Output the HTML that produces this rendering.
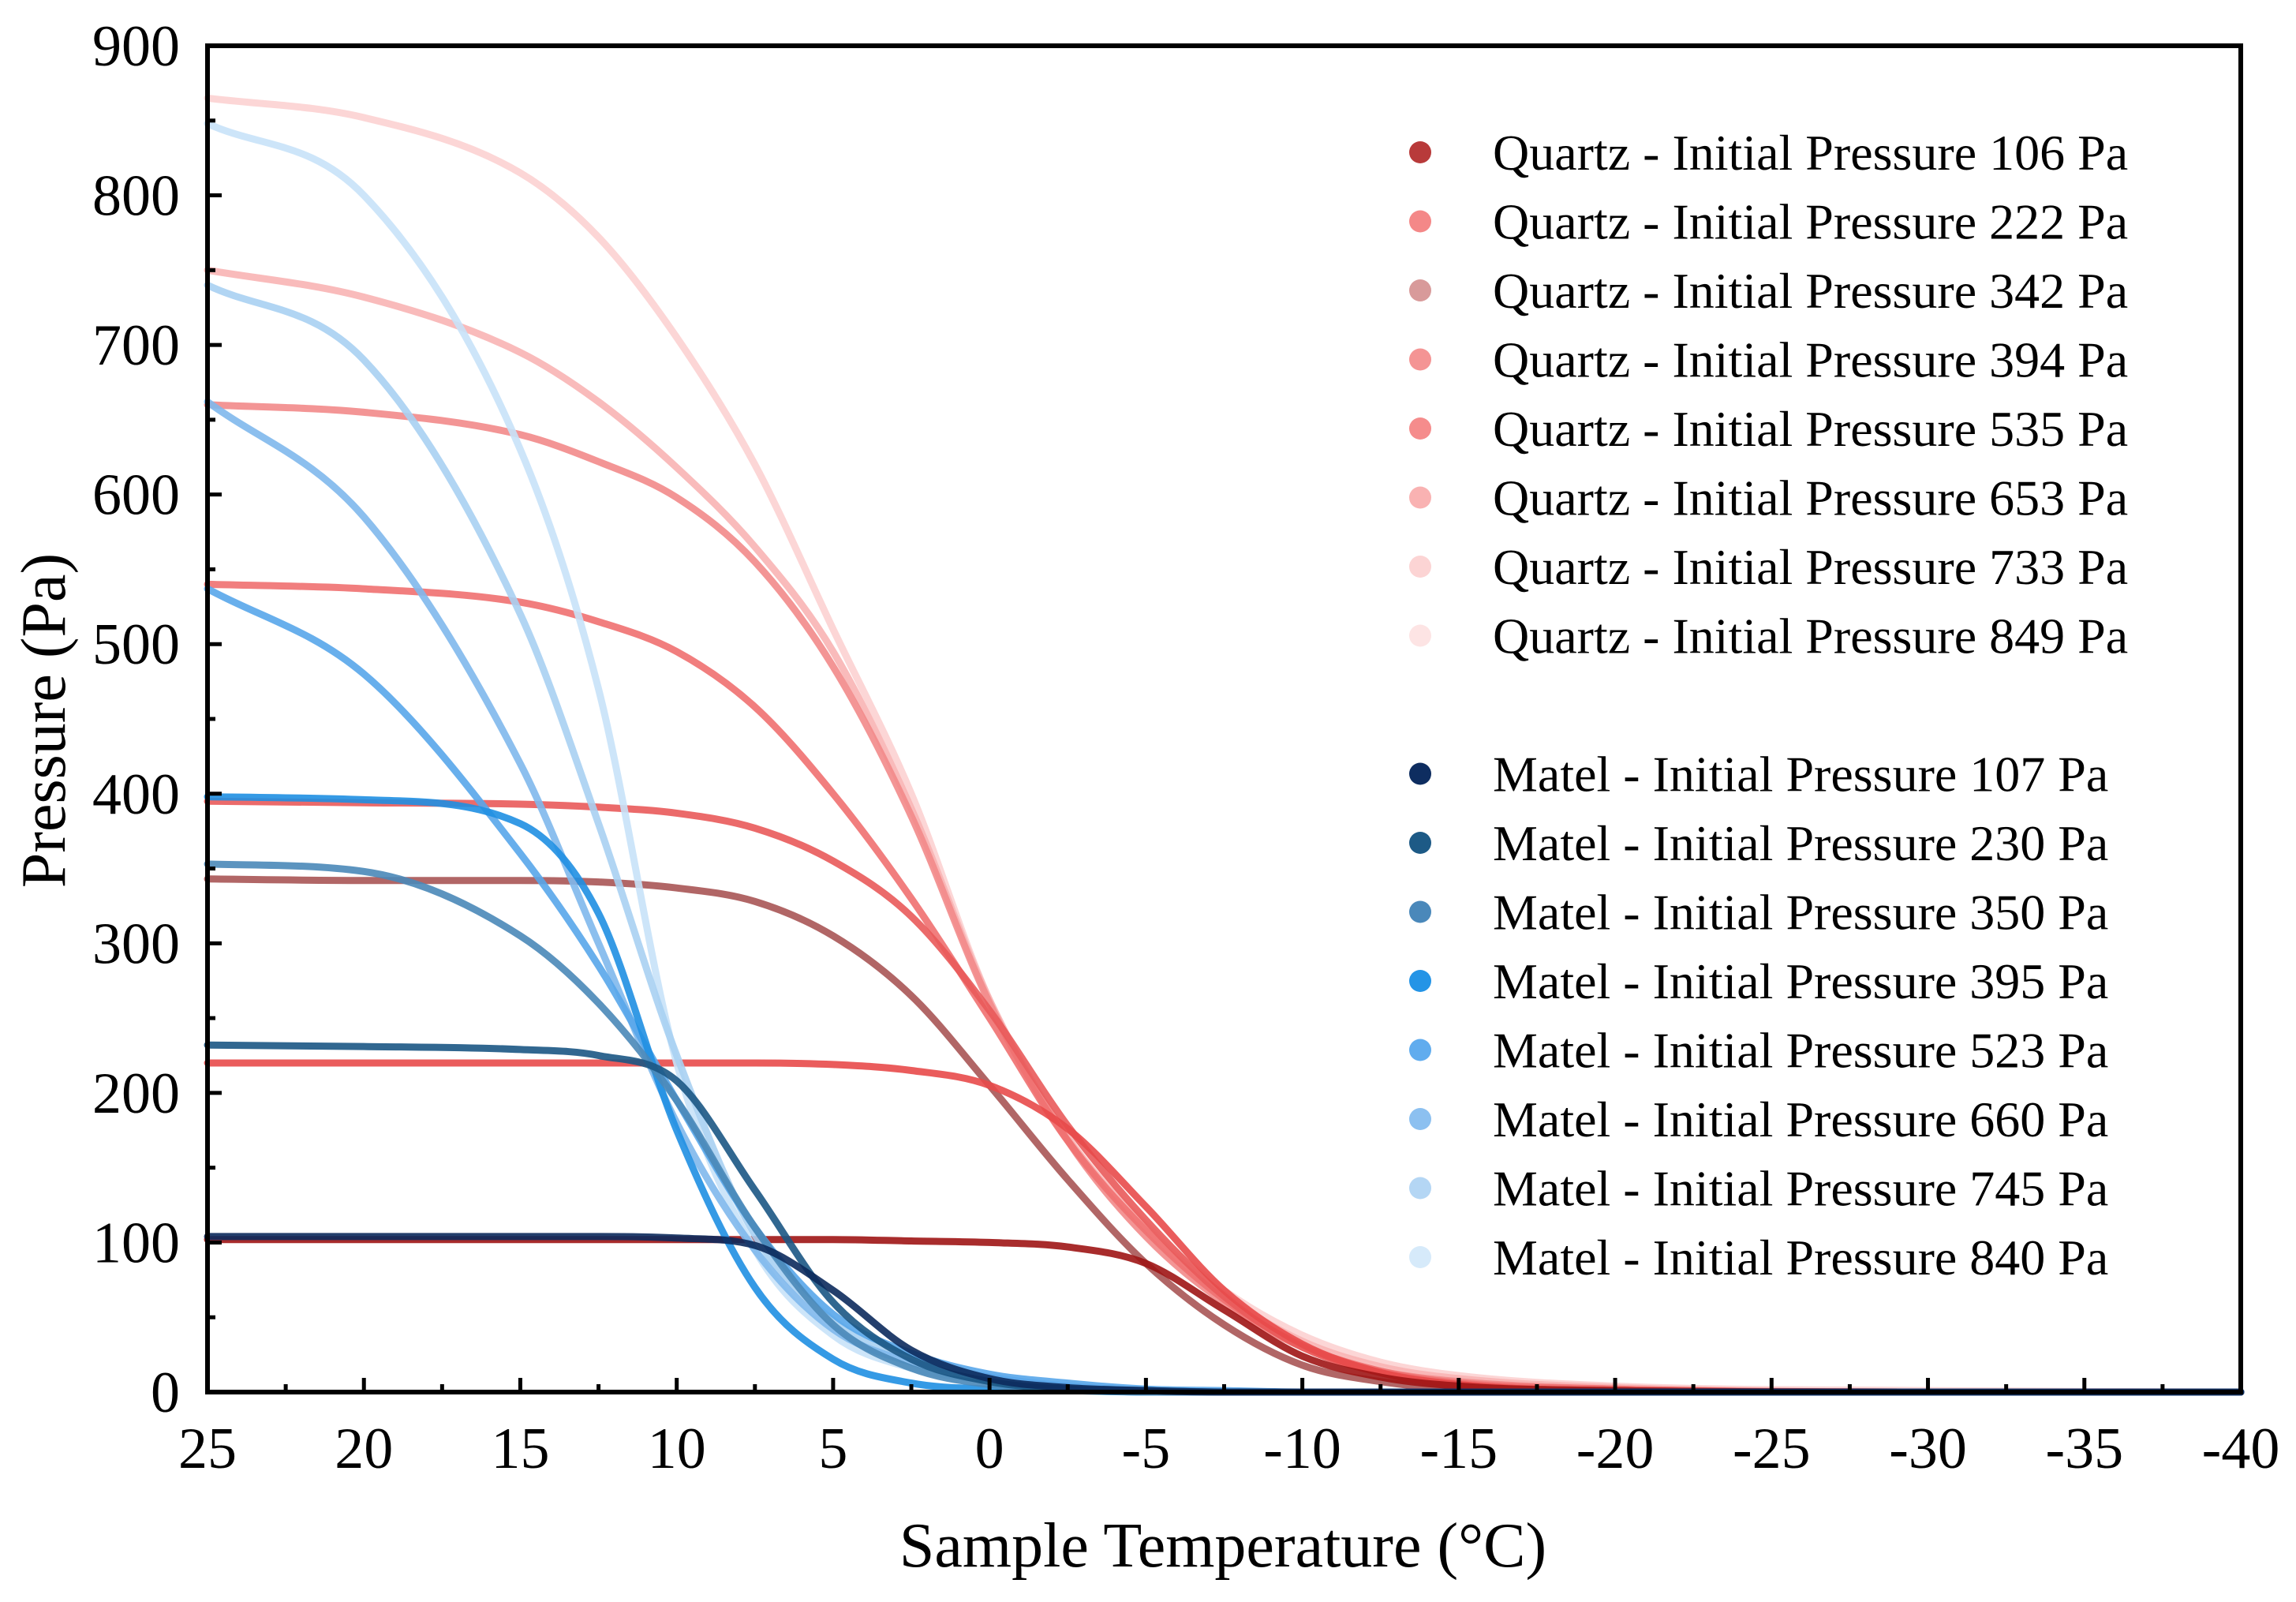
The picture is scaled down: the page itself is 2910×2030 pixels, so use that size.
<!DOCTYPE html>
<html><head><meta charset="utf-8"><style>
html,body{margin:0;padding:0;background:#fff;}
svg{display:block;font-family:"Liberation Serif",serif;}
</style></head><body>
<svg id="chart" width="2910" height="2030" viewBox="0 0 2910 2030" xmlns="http://www.w3.org/2000/svg">
<g id="series"></g>
<g id="axes"></g>
<g id="legend"></g>
<text x="1550" y="1985" font-size="80" text-anchor="middle">Sample Temperature (°C)</text>
<text x="0" y="0" font-size="80" text-anchor="middle" transform="translate(82,913) rotate(-90)">Pressure (Pa)</text>
</svg>
<script>
const temps=[25,20,15,12.5,10,7.5,5,2.5,0,-2.5,-5,-7.5,-10,-12.5,-15,-20,-30,-40];
const q106=[102,102,102,102,102,102,102,101,100,97,86,55,24,10,4,1,0,0];
const q222=[220,220,220,220,220,220,219,215,205,176,124,68,32,13,5,1,0,0];
const q342=[343,342,342,341,337,328,305,265,205,142,86,45,18,7,2,0,0,0];
const q394=[395,394,393,391,387,377,355,318,255,178,115,64,30,13,5,1,0,0];
const q535=[540,537,528,515,495,458,400,330,250,168,108,62,31,14,6,2,0,0];
const q653=[660,655,640,622,598,555,485,385,260,168,104,60,30,14,7,2,0,0];
const q733=[750,732,695,662,618,565,495,390,262,170,110,65,34,17,9,3,0,0];
const q849=[865,852,815,772,705,620,510,400,262,170,112,68,38,20,11,4,1,0];
const m107=[104,104,104,104,103,98,68,28,9,3,1,0,0,0,0,0,0,0];
const m230=[232,231,229,225,208,135,60,22,7,2,1,0,0,0,0,0,0,0];
const m350=[353,348,305,260,195,110,45,16,5,2,0,0,0,0,0,0,0,0];
const m395=[398,396,380,320,175,70,22,6,2,1,0,0,0,0,0,0,0,0];
const m523=[537,480,360,285,195,110,52,26,12,6,2,1,0,0,0,0,0,0];
const m660=[662,585,420,300,180,95,42,20,10,4,1,0,0,0,0,0,0,0];
const m745=[740,690,520,380,225,105,48,22,10,4,1,0,0,0,0,0,0,0];
const m840=[848,800,630,470,220,95,38,16,8,3,1,0,0,0,0,0,0,0];
const xTicks=[25,20,15,10,5,0,-5,-10,-15,-20,-25,-30,-35,-40];
const yTicks=[0,100,200,300,400,500,600,700,800,900];
const seriesNames=["Quartz - Initial Pressure 106 Pa","Quartz - Initial Pressure 222 Pa","Quartz - Initial Pressure 342 Pa","Quartz - Initial Pressure 394 Pa","Quartz - Initial Pressure 535 Pa","Quartz - Initial Pressure 653 Pa","Quartz - Initial Pressure 733 Pa","Quartz - Initial Pressure 849 Pa","Matel - Initial Pressure 107 Pa","Matel - Initial Pressure 230 Pa","Matel - Initial Pressure 350 Pa","Matel - Initial Pressure 395 Pa","Matel - Initial Pressure 523 Pa","Matel - Initial Pressure 660 Pa","Matel - Initial Pressure 745 Pa","Matel - Initial Pressure 840 Pa"];
const seriesVals=[q106,q222,q342,q394,q535,q653,q733,q849,m107,m230,m350,m395,m523,m660,m745,m840];
const lineColors=["#9e1515","#e84a4a","#a85555","#e95a5a","#f07070","#f28a8a","#f8b4b4","#fcd2d2","#0c2a5c","#1b5784","#4a88b8","#1f8fe2","#58a6ea","#80b8ec","#a8d0f2","#c8e2f8"];
const markerColors=["#b83a3a","#f48888","#d89a9a","#f49494","#f58c8c","#f9b2b2","#fcd4d4","#fde4e4","#0e2d60","#1d5a86","#4a88ba","#2494e6","#60acee","#8cc0f0","#b4d6f4","#d6eafa"];
const L=263,R=2840,T=58,B=1764;
const xs=t=>L+(25-t)/65*(R-L);
const ys=v=>B-v/900*(B-T);
const NS="http://www.w3.org/2000/svg";
function mk(tag,attrs,parent){const e=document.createElementNS(NS,tag);for(const k in attrs)e.setAttribute(k,attrs[k]);parent.appendChild(e);return e;}
function monoPath(px,py){
  const n=px.length,d=[],m=[];
  for(let i=0;i<n-1;i++)d.push((py[i+1]-py[i])/(px[i+1]-px[i]));
  m[0]=d[0];m[n-1]=d[n-2];
  for(let i=1;i<n-1;i++){m[i]=(d[i-1]*d[i]<=0)?0:(d[i-1]+d[i])/2;}
  for(let i=0;i<n-1;i++){if(d[i]===0){m[i]=0;m[i+1]=0;continue;}const a=m[i]/d[i],b=m[i+1]/d[i],s=a*a+b*b;if(s>9){const t=3/Math.sqrt(s);m[i]=t*a*d[i];m[i+1]=t*b*d[i];}}
  let p="M"+px[0].toFixed(1)+","+py[0].toFixed(1);
  for(let i=0;i<n-1;i++){const h=(px[i+1]-px[i])/3;p+=" C"+(px[i]+h).toFixed(1)+","+(py[i]+m[i]*h).toFixed(1)+" "+(px[i+1]-h).toFixed(1)+","+(py[i+1]-m[i+1]*h).toFixed(1)+" "+px[i+1].toFixed(1)+","+py[i+1].toFixed(1);}
  return p;
}
const sg=document.getElementById('series');
const order=[7,6,5,4,3,2,1,0,15,14,13,12,11,10,9,8];
order.forEach(i=>{
  const px=temps.map(xs),py=seriesVals[i].map(ys);
  const el=mk('path',{d:monoPath(px,py),fill:'none',stroke:lineColors[i],'stroke-width':9,'stroke-linecap':'round','stroke-opacity':0.9},sg);
  
  
});
const ag=document.getElementById('axes');
const frame=mk('rect',{x:L,y:T,width:R-L,height:B-T,fill:'none',stroke:'#000','stroke-width':6},ag);


for(let t=25;t>=-40;t-=2.5){
  const major=Math.abs(t%5)<1e-6;
  const tk=mk('line',{x1:xs(t),x2:xs(t),y1:B,y2:B-(major?18:10),stroke:'#000','stroke-width':5},ag);
  
  
}
xTicks.forEach(t=>{
  const lb=mk('text',{x:xs(t),y:1860,'font-size':74,'text-anchor':'middle'},ag);
  lb.textContent=String(t);
  
  
});
for(let v=0;v<=900;v+=50){
  const major=v%100===0;
  const tk=mk('line',{x1:L,x2:L+(major?18:10),y1:ys(v),y2:ys(v),stroke:'#000','stroke-width':5},ag);
  
  
}
yTicks.forEach(v=>{
  const lb=mk('text',{x:228,y:ys(v)+25,'font-size':74,'text-anchor':'end'},ag);
  lb.textContent=String(v);
  
  
});
const lg=document.getElementById('legend');
seriesNames.forEach((nm,i)=>{
  const y=193+i*87.5+(i>=8?87.5:0);
  const c=mk('circle',{cx:1800,cy:y,r:14,fill:markerColors[i]},lg);
  
  
  const t=mk('text',{x:1892,y:y+22,'font-size':64},lg);
  t.textContent=nm;
  
  
});
</script>
</body></html>
